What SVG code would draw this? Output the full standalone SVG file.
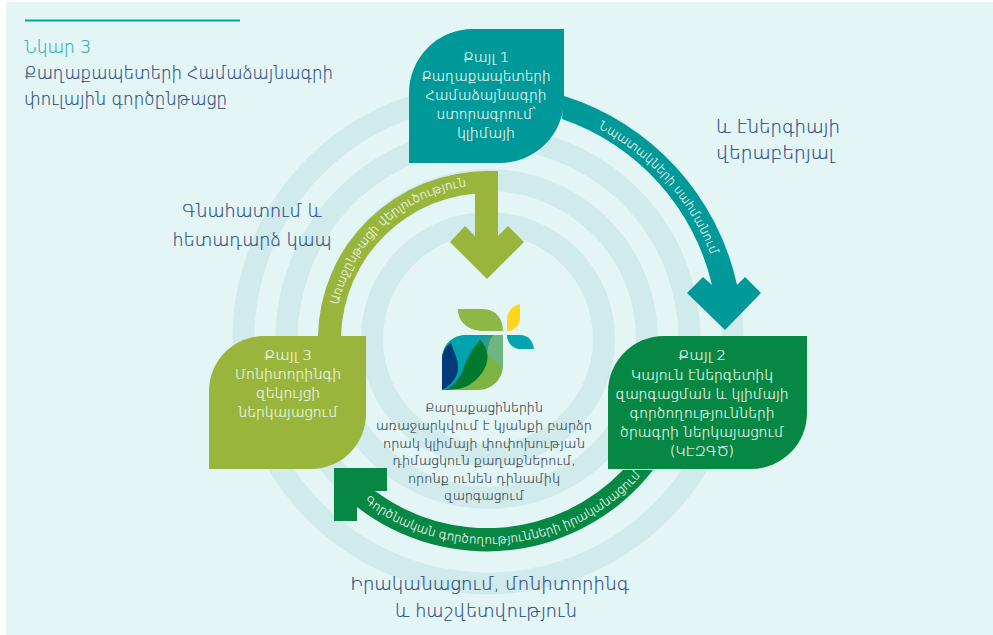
<svg xmlns="http://www.w3.org/2000/svg" width="993" height="635" viewBox="0 0 993 635">
<style>
text{font-family:"DejaVu Sans","Noto Sans",sans-serif;font-weight:200;stroke-width:.22px}
.h{font-size:17px;fill:#2a4a80;stroke:#2a4a80}
.l{font-size:13.5px;fill:#eef8f0;stroke:#eef8f0;text-anchor:middle}
.c{font-size:12.5px;fill:#36434b;stroke:#36434b;text-anchor:middle}
.a{font-size:12px;fill:#eef8f0;stroke:#eef8f0}
.m{text-anchor:middle}
.r{fill:none;stroke:#d1ebec;stroke-width:22}
</style>
<defs>
<path id="p1" d="M598 128A238 238 0 0 1 712 258"/>
<path id="p2" d="M364 502A205 205 0 0 0 643 473"/>
<path id="p3" d="M338 305A154 154 0 0 1 468 186"/>
</defs>
<rect width="993" height="635" fill="#fff"/>
<rect x="6" y="2" width="987" height="633" fill="#e4f5f6"/>
<g id="rings">
<circle class="r" cx="488" cy="339" r="116"/>
<circle class="r" cx="488" cy="339" r="159"/>
<circle class="r" cx="488" cy="339" r="201.5"/>
<circle class="r" cx="488" cy="339" r="244.5"/>
</g>
<g id="connectors">
<path fill="#009999" d="M564 96A255 255 0 0 1 737 285L745 277L761 293L725 330L687 293L703 277L712 285A231 231 0 0 0 562 119Z"/>
<path fill="#068844" d="M653 470A211 211 0 0 1 357 507V521H334V468H387V491H375A188 188 0 0 0 623 470Z"/>
<path fill="#9ab53c" d="M318 336A170 168 0 0 1 488 171H498V236L508 226L524 242L487 279L450 242L465 226L475 236V193H488A147 147 0 0 0 341 336Z"/>
<text class="a"><textPath href="#p1" textLength="174" lengthAdjust="spacingAndGlyphs">Նպատակների սահմանում</textPath></text>
<text class="a"><textPath href="#p2" textLength="306" lengthAdjust="spacingAndGlyphs">Գործնական գործողությունների իրականացում</textPath></text>
<text class="a"><textPath href="#p3" textLength="186" lengthAdjust="spacingAndGlyphs">Առաջընթացի վերլուծություն</textPath></text>
</g>
<g id="title">
<line x1="25" y1="20.5" x2="240" y2="20.5" stroke="#00a5a0" stroke-width="2"/>
<text class="h" x="24" y="53" textLength="67" lengthAdjust="spacingAndGlyphs" style="fill:#2fb0ae;stroke:#2fb0ae">Նկար 3</text>
<text class="h" x="24" y="79" textLength="309" lengthAdjust="spacingAndGlyphs">Քաղաքապետերի Համաձայնագրի</text>
<text class="h" x="24" y="105" textLength="203" lengthAdjust="spacingAndGlyphs">փուլային գործընթացը</text>
</g>
<g id="step1">
<path fill="#009999" d="M473 29H564V100A64 64 0 0 1 500 163H409V93A64 64 0 0 1 473 29Z"/>
<text class="l" x="486" y="62" textLength="46" lengthAdjust="spacingAndGlyphs">Քայլ 1</text>
<text class="l" x="486" y="81" textLength="129" lengthAdjust="spacingAndGlyphs">Քաղաքապետերի</text>
<text class="l" x="486" y="100" textLength="121" lengthAdjust="spacingAndGlyphs">Համաձայնագրի</text>
<text class="l" x="486" y="119" textLength="99" lengthAdjust="spacingAndGlyphs">ստորագրում՝</text>
<text class="l" x="486" y="138" textLength="58" lengthAdjust="spacingAndGlyphs">կլիմայի</text>
</g>
<g id="step2">
<path fill="#068844" d="M664 336H807V413A56 56 0 0 1 751 469H608V392A56 56 0 0 1 664 336Z"/>
<text class="l" x="702" y="360" textLength="48" lengthAdjust="spacingAndGlyphs">Քայլ 2</text>
<text class="l" x="702" y="380" textLength="142" lengthAdjust="spacingAndGlyphs">Կայուն էներգետիկ</text>
<text class="l" x="702" y="399" textLength="173" lengthAdjust="spacingAndGlyphs">զարգացման և կլիմայի</text>
<text class="l" x="702" y="418" textLength="145" lengthAdjust="spacingAndGlyphs">գործողությունների</text>
<text class="l" x="702" y="437" textLength="164" lengthAdjust="spacingAndGlyphs">ծրագրի ներկայացում</text>
<text class="l" x="702" y="456" textLength="64" lengthAdjust="spacingAndGlyphs">(ԿԷԶԳԾ)</text>
</g>
<g id="step3">
<path fill="#9ab53c" d="M264 336H366V414A55 55 0 0 1 311 469H209V391A55 55 0 0 1 264 336Z"/>
<text class="l" x="288" y="360" textLength="48" lengthAdjust="spacingAndGlyphs">Քայլ 3</text>
<text class="l" x="288" y="379" textLength="106" lengthAdjust="spacingAndGlyphs">Մոնիտորինգի</text>
<text class="l" x="288" y="398" textLength="64" lengthAdjust="spacingAndGlyphs">զեկույցի</text>
<text class="l" x="288" y="417" textLength="100" lengthAdjust="spacingAndGlyphs">ներկայացում</text>
</g>
<g id="labels">
<text class="h" x="716" y="133" textLength="124" lengthAdjust="spacingAndGlyphs">և էներգիայի</text>
<text class="h" x="716" y="159" textLength="118" lengthAdjust="spacingAndGlyphs">վերաբերյալ</text>
<text class="h m" x="252" y="217" textLength="140" lengthAdjust="spacingAndGlyphs">Գնահատում և</text>
<text class="h m" x="252" y="246" textLength="159" lengthAdjust="spacingAndGlyphs">հետադարձ կապ</text>
<text class="h m" x="490" y="590" textLength="279" lengthAdjust="spacingAndGlyphs">Իրականացում, մոնիտորինգ</text>
<text class="h m" x="486" y="617" textLength="182" lengthAdjust="spacingAndGlyphs">և հաշվետվություն</text>
</g>
<g id="centre">
<path fill="#8eb745" d="M458 309H482C497 309 503 320 503 331H484C468 331 458 322 458 309Z"/>
<path fill="#ffd520" d="M520 304C512 306 507 312 507 320V331C515 331 520 325 520 317Z"/>
<path fill="#00a5b0" d="M507 335H520C528 335 533 341 534 349H521C513 349 507 343 507 335Z"/>
<path fill="#7cb342" d="M442 390V360C442 345 452 335 467 335H503V365C503 379 492 390 478 390Z"/>
<path fill="#00a2ae" d="M442 390V360C442 345 452 335 467 335H493L488 352L462 380L447 390Z"/>
<path fill="#6eb580" d="M493 335H503V368C498 362 488 358 487 352C488 345 489 340 493 335Z"/>
<path fill="#2d9a8a" d="M480 340C484 337 488 335 493 335C489 340 488 345 487 352C486 348 483 344 480 340Z"/>
<path fill="#00792f" d="M444 390C452 388 458 380 462 372C466 360 472 349 480 340C485 345 489 352 487 362C484 375 470 388 457 389Z"/>
<path fill="#003a79" d="M442 390V360C442 352 446 346 451 343C453 350 458 358 458 368C458 378 450 386 442 390Z"/>
<text class="c" x="484" y="412" textLength="118" lengthAdjust="spacingAndGlyphs">Քաղաքացիներին</text>
<text class="c" x="484" y="430" textLength="216" lengthAdjust="spacingAndGlyphs">առաջարկվում է կյանքի բարձր</text>
<text class="c" x="484" y="448" textLength="202" lengthAdjust="spacingAndGlyphs">որակ կլիմայի փոփոխության</text>
<text class="c" x="484" y="465" textLength="183" lengthAdjust="spacingAndGlyphs">դիմացկուն քաղաքներում,</text>
<text class="c" x="484" y="483" textLength="152" lengthAdjust="spacingAndGlyphs">որոնք ունեն դինամիկ</text>
<text class="c" x="484" y="500" textLength="80" lengthAdjust="spacingAndGlyphs">զարգացում</text>
</g>
</svg>
